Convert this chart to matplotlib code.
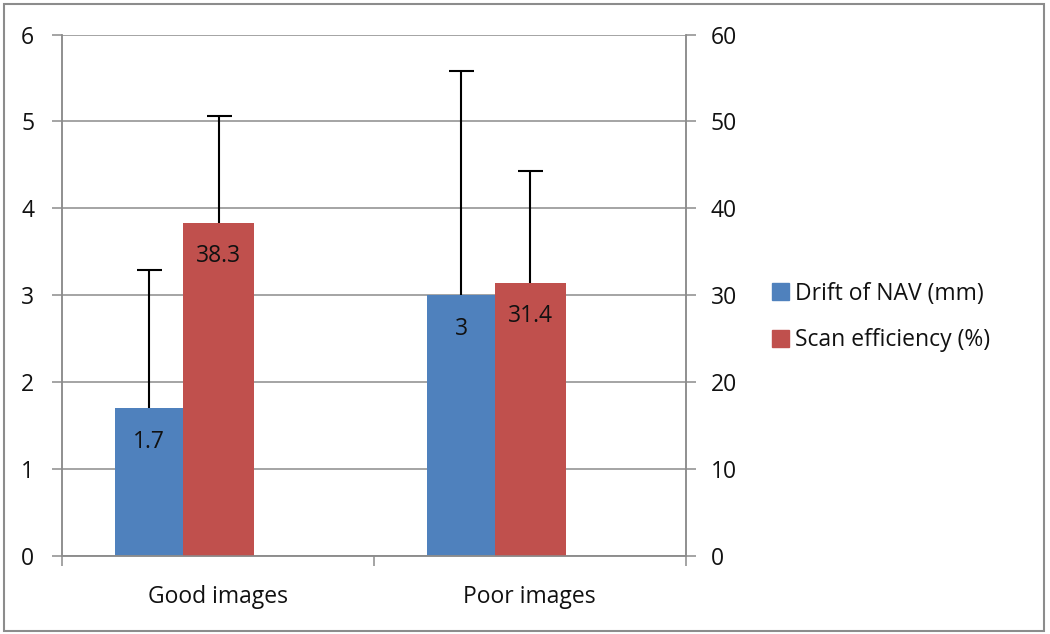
import matplotlib
matplotlib.use("Agg")
import matplotlib.pyplot as plt
from matplotlib.patches import Rectangle
import numpy as np

categories = ["Good images", "Poor images"]
drift_mm = [1.7, 3.0]
drift_err = [1.59, 2.58]
scan_eff = [38.3, 31.4]
scan_err = [12.3, 12.9]
drift_labels = ["1.7", "3"]
scan_labels = ["38.3", "31.4"]
left_ticks = [0, 1, 2, 3, 4, 5, 6]
right_ticks = [0, 10, 20, 30, 40, 50, 60]
series_names = ["Drift of NAV (mm)", "Scan efficiency (%)"]

BLUE = "#4F81BD"
RED = "#C0504D"
GRID = "#8C8C8C"
TXT = "#111111"
FONT = "Open Sans"
FS = 16.5

plt.rcParams['font.family'] = [FONT, 'DejaVu Sans']
plt.rcParams['text.color'] = TXT
plt.rcParams['xtick.labelcolor'] = TXT
plt.rcParams['ytick.labelcolor'] = TXT

W, H = 1050, 634
fig = plt.figure(figsize=(W / 100, H / 100), dpi=100)
fig.patch.set_facecolor("white")

x0, x1 = 62, 685.7
y0, y1 = 556, 34.5
ax = fig.add_axes([x0 / W, 1 - y0 / H, (x1 - x0) / W, (y0 - y1) / H])
ax2 = ax.twinx()

x = np.arange(len(categories))
bw = 0.218
blue_off = -0.22
red_off = 0.002

ax.set_axisbelow(True)
b1 = ax.bar(x + blue_off, drift_mm, width=bw, color=BLUE, zorder=2,
            yerr=[np.zeros(len(drift_err)), drift_err],
            error_kw=dict(ecolor="black", elinewidth=1.5, capsize=9, capthick=1.5))
b2 = ax2.bar(x + red_off, scan_eff, width=bw + 0.01, color=RED, zorder=2,
             yerr=[np.zeros(len(scan_err)), scan_err],
             error_kw=dict(ecolor="black", elinewidth=1.5, capsize=9, capthick=1.5))
# hide the lower caps (only plus error bars in the reference)
for cont in (b1, b2):
    caps = cont.errorbar.lines[1]
    if len(caps) >= 2:
        caps[0].set_visible(False)

for xi, v, s in zip(x, drift_mm, drift_labels):
    ax.annotate(s, (xi + blue_off, v), xytext=(0, -24), textcoords="offset points",
                ha="center", va="center", fontsize=FS, color=TXT)
for xi, v, s in zip(x, scan_eff, scan_labels):
    ax2.annotate(s, (xi + red_off, v), xytext=(0, -24), textcoords="offset points",
                 ha="center", va="center", fontsize=FS, color=TXT)

ax.set_xlim(-0.5, len(categories) - 0.5)
ax.set_ylim(left_ticks[0], left_ticks[-1])
ax2.set_ylim(right_ticks[0], right_ticks[-1])
ax.set_yticks(left_ticks)
ax.set_yticklabels([str(t) for t in left_ticks])
ax2.set_yticks(right_ticks)
ax2.set_yticklabels([str(t) for t in right_ticks])
ax.set_xticks(x)
ax.set_xticklabels(categories)
ax.set_xticks(np.arange(-0.5, len(categories), 1.0), minor=True)

ax.yaxis.grid(True, color=GRID, linewidth=1.1)
ax.tick_params(axis="y", which="major", direction="out", length=7, width=1.1,
               color=GRID, labelsize=FS, pad=13)
ax2.tick_params(axis="y", which="major", direction="out", length=7, width=1.1,
                color=GRID, labelsize=FS, pad=11)
ax.tick_params(axis="x", which="major", length=0, labelsize=FS, pad=21)
ax.tick_params(axis="x", which="minor", direction="out", length=7, width=1.1, color=GRID)

for a in (ax, ax2):
    a.spines["top"].set_visible(False)
    for sp in ("left", "right", "bottom"):
        a.spines[sp].set_color(GRID)
        a.spines[sp].set_linewidth(1.1)

handles = [Rectangle((0, 0), 1, 1, color=BLUE), Rectangle((0, 0), 1, 1, color=RED)]
fig.legend(handles, series_names, loc="center left",
           bbox_to_anchor=(772 / W, 1 - 317 / H), frameon=False, fontsize=FS,
           handlelength=0.75, handleheight=0.75, handletextpad=0.25,
           labelspacing=1.0, borderpad=0, borderaxespad=0)

fig.patches.append(Rectangle((4 / W, 1 - 631 / H), 1040 / W, 627 / H,
                             transform=fig.transFigure, fill=False,
                             edgecolor=GRID, linewidth=1.5))

fig.savefig("out.png", dpi=100)
